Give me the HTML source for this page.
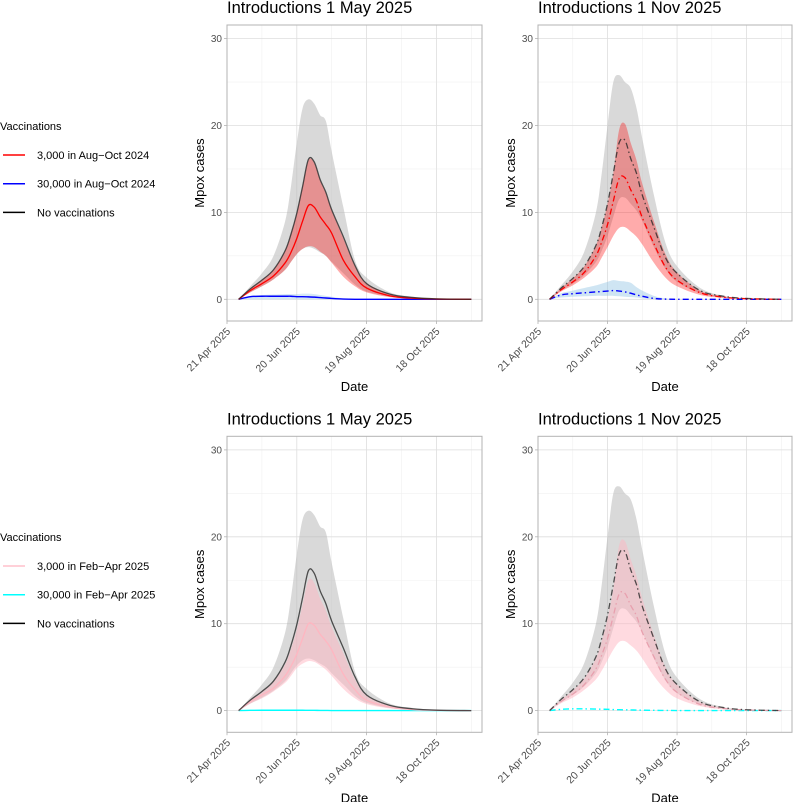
<!DOCTYPE html>
<html><head><meta charset="utf-8">
<style>
body{margin:0;background:#fff;font-family:"Liberation Sans",sans-serif;}
svg{display:block}
</style></head>
<body>
<svg id="chart" width="794" height="802" font-family="Liberation Sans, sans-serif"></svg>
<script>
// x = days since 21 Apr 2025
const days = [10,20,30,40,50,55,60,65,70,75,80,85,90,100,110,120,140,160,180,210];
const xTickLabels = ["21 Apr 2025","20 Jun 2025","19 Aug 2025","18 Oct 2025"];
const xTickDays = [0,60,120,180];
const yTicks = [0,10,20,30];

// May introduction panels
const mayNoVaxMed = [0,1.2,2.2,3.4,5.6,7.5,9.9,13,16.1,15.8,13.8,12.3,10.3,7.2,3.9,1.8,0.6,0.2,0.05,0];
const mayNoVaxHi  = [0,1.5,3,5,9,13,18,22,23,22.5,21.2,20.5,17,10.6,4.5,2.5,0.8,0.3,0.1,0];
const mayNoVaxLo  = [0,0.8,1.5,2.3,3.4,4.3,5.2,5.8,6,5.8,5.4,5,4.3,3,1.7,0.9,0.3,0.1,0,0];
const mayRedMed = [0,1,1.8,2.7,4.2,5.4,7,9,10.8,10.6,9.5,8.6,7.6,4.5,2.6,1.3,0.4,0.12,0.03,0];
const mayRedHi  = [0,1.2,2.2,3.4,5.6,7.5,9.9,13,16,15.7,13.7,12.2,10.2,7,3.8,1.8,0.6,0.2,0.05,0];
const mayRedLo  = [0,0.8,1.5,2.3,3.4,4.3,5.2,5.8,6.1,6,5.5,5,4.2,2.6,1.5,0.8,0.25,0.08,0,0];
const mayBlueMed = [0,0.3,0.35,0.35,0.35,0.35,0.3,0.3,0.28,0.25,0.2,0.15,0.1,0.03,0,0,0,0,0,0];
const mayBlueHi  = [0,0.4,0.5,0.55,0.6,0.6,0.6,0.65,0.65,0.6,0.5,0.4,0.3,0.1,0.03,0,0,0,0,0];
const mayBlueLo  = [0,0,0,0,0,0,0,0,0,0,0,0,0,0,0,0,0,0,0,0];
const mayPinkMed = [0,1,1.8,2.6,4,5.1,6.5,8.3,10,9.8,8.8,8,7,4.2,2.4,1.2,0.4,0.1,0.03,0];
const mayPinkHi  = [0,1.2,2.1,3.3,5.3,7.1,9.3,12.2,15,14.7,12.9,11.5,9.6,6.6,3.6,1.7,0.55,0.2,0.05,0];
const mayPinkLo  = [0,0.8,1.4,2.2,3.2,4,4.9,5.4,5.7,5.6,5.2,4.7,4,2.5,1.4,0.75,0.25,0.08,0,0];
const mayCyanMed = [0,0.03,0.04,0.04,0.04,0.04,0.04,0.04,0.03,0.03,0.02,0.02,0.01,0,0,0,0,0,0,0];

// Nov introduction panels
const novNoVaxMed = [0,1.3,2.4,3.8,6.2,8.3,11,14.5,18,18.3,16.2,14.5,12,8.3,4.8,3,1,0.35,0.1,0];
const novNoVaxHi  = [0,1.6,3.2,5.5,10,14.5,20,25,25.8,25,24.3,22,18.5,12,6.5,3.8,1.3,0.4,0.1,0];
const novNoVaxLo  = [0,1,1.8,2.8,4.3,5.6,7.3,9.5,11.5,11.7,11,10.2,9,6,3.5,2,0.7,0.2,0.05,0];
const novRedMed = [0,1.1,2,3.1,5,6.6,8.6,11.3,13.9,14,12.6,11.3,9.4,6.4,3.7,2.2,0.75,0.25,0.07,0];
const novRedHi  = [0,1.3,2.4,3.8,6.2,8.3,11,14.5,19.5,20.2,18,16,13.3,9,5.2,3.1,1,0.35,0.1,0];
const novRedLo  = [0,0.9,1.6,2.5,3.7,4.8,6,7.3,8.2,8.3,7.8,7.2,6.3,4.2,2.5,1.5,0.5,0.15,0.04,0];
const novBlueMed = [0,0.5,0.65,0.75,0.85,0.9,0.95,1,0.95,0.85,0.7,0.5,0.35,0.1,0.02,0,0,0,0,0];
const novBlueHi  = [0,0.7,1,1.3,1.6,1.8,2,2.2,2.1,2.05,1.9,1.4,1,0.4,0.1,0,0,0,0,0];
const novBlueLo  = [0,0.2,0.3,0.35,0.4,0.4,0.4,0.4,0.35,0.3,0.25,0.2,0.1,0.02,0,0,0,0,0,0];
const novPinkMed = [0,1.05,1.9,3,4.8,6.4,8.3,10.9,13.4,13.5,12.1,10.9,9,6.2,3.6,2.1,0.7,0.24,0.07,0];
const novPinkHi  = [0,1.25,2.3,3.7,6,8,10.6,14,19,19.5,17.4,15.5,12.9,8.7,5,3,1,0.34,0.1,0];
const novPinkLo  = [0,0.85,1.5,2.4,3.6,4.6,5.8,7,7.9,8,7.5,6.9,6,4,2.4,1.4,0.5,0.14,0.04,0];
const novCyanMed = [0,0.15,0.2,0.2,0.18,0.16,0.15,0.12,0.1,0.09,0.08,0.06,0.05,0.03,0.02,0.01,0,0,0,0];

const NS="http://www.w3.org/2000/svg";
const svg=document.getElementById('chart');
function mk(tag,attrs,parent){const e=document.createElementNS(NS,tag);for(const k in attrs)e.setAttribute(k,attrs[k]);(parent||svg).appendChild(e);return e;}

const legends=[
 {y:126,items:[["3,000 in Aug\u2212Oct 2024","#ff0000"],["30,000 in Aug\u2212Oct 2024","#0000ff"],["No vaccinations","#000"]]},
 {y:537,items:[["3,000 in Feb\u2212Apr 2025","#ffc0cb"],["30,000 in Feb\u2212Apr 2025","#00ffff"],["No vaccinations","#000"]]}
];
legends.forEach((lg,li)=>{
  const g=mk('g',{});
  
  
  const t=mk('text',{x:0,y:lg.y+4,'font-size':11,fill:'#000'},g);t.textContent='Vaccinations';
  
  
  lg.items.forEach((it,i)=>{
    const yy=lg.y+29+i*28.7;
    const e=mk('g',{},g);
    
    
    mk('line',{x1:3,x2:25,y1:yy,y2:yy,stroke:it[1],'stroke-width':1.5},e);
    const tt=mk('text',{x:37,y:yy+4,'font-size':11,fill:'#000'},e);tt.textContent=it[0];
  });
});

const panels=[
 {x0:227,x1:482,top:25,yOff:0,title:"Introductions 1 May 2025",g:[mayNoVaxLo,mayNoVaxMed,mayNoVaxHi],a:[mayRedLo,mayRedMed,mayRedHi,'#ff0000','rgba(255,0,0,0.33)'],b:[mayBlueLo,mayBlueMed,mayBlueHi,'#0000ff','rgba(135,190,225,0.35)'],dash:null,name:'top-left'},
 {x0:538,x1:792,top:25,yOff:0,title:"Introductions 1 Nov 2025",g:[novNoVaxLo,novNoVaxMed,novNoVaxHi],a:[novRedLo,novRedMed,novRedHi,'#ff0000','rgba(255,0,0,0.33)'],b:[novBlueLo,novBlueMed,novBlueHi,'#0000ff','rgba(135,190,225,0.4)'],dash:'6,3,1.5,3',name:'top-right'},
 {x0:227,x1:482,top:436.3,yOff:411.3,title:"Introductions 1 May 2025",g:[mayNoVaxLo,mayNoVaxMed,mayNoVaxHi],a:[mayPinkLo,mayPinkMed,mayPinkHi,'#ffb6c1','rgba(255,182,193,0.5)'],b:[mayCyanMed,mayCyanMed,mayCyanMed,'#00ffff','rgba(0,255,255,0.2)'],dash:null,name:'bottom-left'},
 {x0:538,x1:792,top:436.3,yOff:411.3,title:"Introductions 1 Nov 2025",g:[novNoVaxLo,novNoVaxMed,novNoVaxHi],a:[novPinkLo,novPinkMed,novPinkHi,'#e8a0ae','rgba(255,182,193,0.5)'],b:[novCyanMed,novCyanMed,novCyanMed,'#00ffff','rgba(0,255,255,0.2)'],dash:'6,3,1.5,3',name:'bottom-right'}
];

function smooth(pts){
  let s='M'+pts[0][0]+','+pts[0][1];
  for(let i=0;i<pts.length-1;i++){
    const p0=pts[Math.max(0,i-1)],p1=pts[i],p2=pts[i+1],p3=pts[Math.min(pts.length-1,i+2)];
    const c1=[p1[0]+(p2[0]-p0[0])/6,p1[1]+(p2[1]-p0[1])/6];
    const c2=[p2[0]-(p3[0]-p1[0])/6,p2[1]-(p3[1]-p1[1])/6];
    s+='C'+c1[0]+','+c1[1]+' '+c2[0]+','+c2[1]+' '+p2[0]+','+p2[1];
  }
  return s;
}

panels.forEach(p=>{
  const pg=mk('g',{});
  
  
  const pxPerDay=(p.x1-p.x0)*69.8/255/60;
  const X=d=>p.x0+d*pxPerDay;
  const Y=v=>299.3+p.yOff-v*8.69;
  const bottom=p.top+296;
  for(const v of [5,15,25]) mk('line',{x1:p.x0,x2:p.x1,y1:Y(v),y2:Y(v),stroke:'#f0f0f0','stroke-width':0.6},pg);
  for(const d of [30,90,150,210]) mk('line',{x1:X(d),x2:X(d),y1:p.top,y2:bottom,stroke:'#f0f0f0','stroke-width':0.6},pg);
  yTicks.forEach(v=>{
    mk('line',{x1:p.x0,x2:p.x1,y1:Y(v),y2:Y(v),stroke:'#dedede','stroke-width':0.8},pg);
    mk('line',{x1:p.x0-3,x2:p.x0,y1:Y(v),y2:Y(v),stroke:'#b3b3b3','stroke-width':0.8},pg);
    const t=mk('text',{x:p.x0-5,y:Y(v)+3.5,'font-size':10,fill:'#4d4d4d','text-anchor':'end'},pg);t.textContent=v;
    
    
  });
  xTickDays.forEach((d,i)=>{
    mk('line',{x1:X(d),x2:X(d),y1:p.top,y2:bottom,stroke:'#dedede','stroke-width':0.8},pg);
    mk('line',{x1:X(d),x2:X(d),y1:bottom,y2:bottom+3,stroke:'#b3b3b3','stroke-width':0.8},pg);
    const ax=X(d)+4, ay=bottom+11;
    const t=mk('text',{x:ax,y:ay,'font-size':10.5,fill:'#4d4d4d','text-anchor':'end',transform:`rotate(-45 ${ax} ${ay})`},pg);t.textContent=xTickLabels[i];
    
    
  });
  if(X(240)<p.x1) mk('line',{x1:X(240),x2:X(240),y1:p.top,y2:bottom,stroke:'#dedede','stroke-width':0.8},pg);
  const band=(lo,hi,fill,name)=>{
    const up=days.map((d,i)=>[X(d),Y(hi[i])]);
    const dn=days.map((d,i)=>[X(d),Y(lo[i])]).reverse();
    let s=smooth(up)+smooth(dn).replace('M','L')+'Z';
    const e=mk('path',{d:s,fill:fill,stroke:'none'},pg);
    
    
  };
  const line=(arr,col,name,w)=>{
    const s=smooth(days.map((d,i)=>[X(d),Y(arr[i])]));
    const e=mk('path',{d:s,fill:'none',stroke:col,'stroke-width':w||1.3,'stroke-linejoin':'round'},pg);
    if(p.dash) e.setAttribute('stroke-dasharray',p.dash);
    
    
  };
  band(p.g[0],p.g[2],'rgba(180,180,180,0.5)','no-vaccination-band');
  band(p.a[0],p.a[2],p.a[4],'vaccination-3000-band');
  band(p.b[0],p.b[2],p.b[4],'vaccination-30000-band');
  line(p.b[1],p.b[3],'vaccination-30000-line',1.4);
  line(p.a[1],p.a[3],'vaccination-3000-line',1.3);
  line(p.g[1],'rgba(40,40,40,0.8)','no-vaccination-line',1.3);
  mk('rect',{x:p.x0,y:p.top,width:p.x1-p.x0,height:bottom-p.top,fill:'none',stroke:'#b3b3b3','stroke-width':1},pg);
  const tt=mk('text',{x:p.x0,y:p.top-12,'font-size':16.5,fill:'#000'},pg);tt.textContent=p.title;
  
  
  const yt=mk('text',{x:0,y:0,'font-size':13,fill:'#000','text-anchor':'middle',transform:`translate(${p.x0-23},${(p.top+bottom)/2}) rotate(-90)`},pg);yt.textContent='Mpox cases';
  
  
  const xt=mk('text',{x:(p.x0+p.x1)/2,y:bottom+70,'font-size':13,fill:'#000','text-anchor':'middle'},pg);xt.textContent='Date';
  
  
});
</script>
</body></html>
